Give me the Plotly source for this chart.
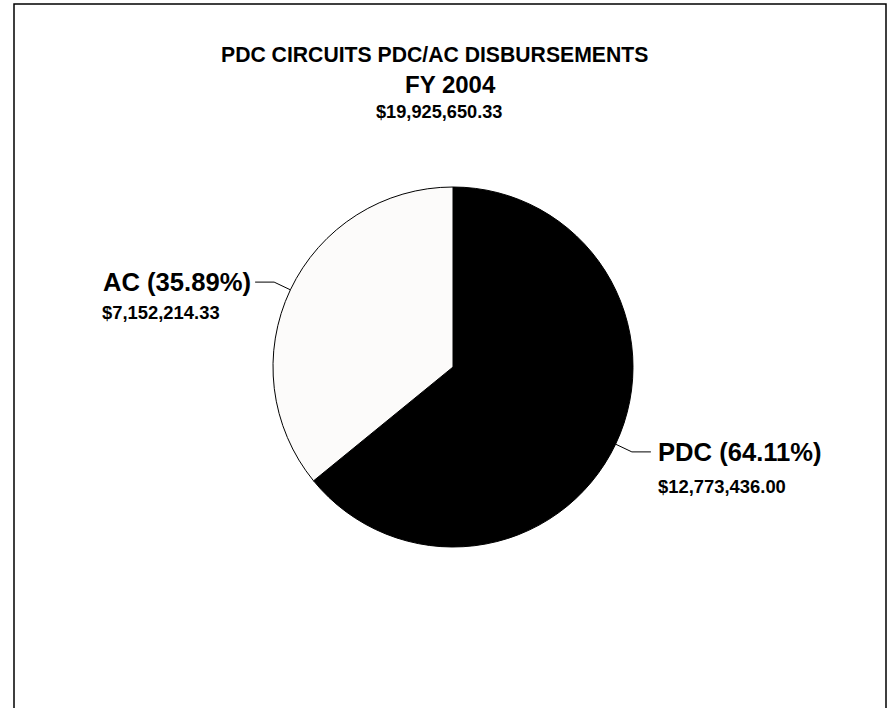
import math
import plotly.graph_objects as go

# ---- data ----
categories = ["PDC", "AC"]
amounts = [12773436.00, 7152214.33]
slice_colors = ["#000000", "#fcfbfa"]
title_lines = ["PDC CIRCUITS PDC/AC DISBURSEMENTS", "FY 2004"]
total_label = "$19,925,650.33"

W, H = 894, 708
cx, cy, R = 453, 367, 180  # pie centre / radius in page pixels

def px(x):
    return x / W

def py(y):
    return 1 - y / H

fig = go.Figure(go.Pie(
    labels=categories,
    values=amounts,
    sort=False,
    direction="clockwise",
    rotation=0,
    marker=dict(colors=slice_colors, line=dict(color="#000000", width=1)),
    textinfo="none",
    hoverinfo="label+value+percent",
    showlegend=False,
    domain=dict(x=[px(cx - R), px(cx + R)], y=[py(cy + R), py(cy - R)]),
))

FONT = "Liberation Sans, Arial, Helvetica, sans-serif"
total = sum(amounts)
shapes = []
annotations = []

# border
shapes.append(dict(type="rect", xref="paper", yref="paper",
                   x0=px(14), x1=px(886), y0=-0.05, y1=py(4),
                   line=dict(color="#000000", width=1.5)))

cum = 0.0
for name, val in zip(categories, amounts):
    theta = 2 * math.pi * (cum + val / 2) / total
    cum += val
    s, c = math.sin(theta), math.cos(theta)
    x0, y0 = cx + R * s, cy - R * c
    x1, y1 = cx + R * 1.1 * s, cy - R * 1.1 * c
    side = 1 if s >= 0 else -1
    x2 = x1 + side * 19
    shapes.append(dict(type="path", xref="paper", yref="paper",
                       path=f"M {px(x0)},{py(y0)} L {px(x1)},{py(y1)} L {px(x2)},{py(y1)}",
                       line=dict(color="#000000", width=1)))
    pct = 100 * val / total
    label = f"<b>{name} ({pct:.2f}%)</b>"
    money = f"<b>${val:,.2f}</b>"
    if side > 0:
        annotations.append(dict(text=label, x=px(x2 + 5), y=py(y1), xanchor="left", yanchor="middle",
                                font=dict(size=25.6, color="#000000", family=FONT)))
        annotations.append(dict(text=money, x=px(x2 + 5), y=py(y1 + 35), xanchor="left", yanchor="middle",
                                font=dict(size=18.4, color="#000000", family=FONT)))
    else:
        annotations.append(dict(text=label, x=px(x2 - 2), y=py(y1), xanchor="right", yanchor="middle",
                                font=dict(size=25.6, color="#000000", family=FONT)))
        annotations.append(dict(text=money, x=px(x2 - 155), y=py(y1 + 30), xanchor="left", yanchor="middle",
                                font=dict(size=18.4, color="#000000", family=FONT)))

# titles
annotations.append(dict(text=f"<b>{title_lines[0]}</b>", x=px(434.5), y=py(54), xanchor="center", yanchor="middle",
                        font=dict(size=21.2, color="#000000", family=FONT)))
annotations.append(dict(text=f"<b>{title_lines[1]}</b>", x=px(450), y=py(85), xanchor="center", yanchor="middle",
                        font=dict(size=24, color="#000000", family=FONT)))
annotations.append(dict(text=f"<b>{total_label}</b>", x=px(438.5), y=py(111.5), xanchor="center", yanchor="middle",
                        font=dict(size=18.2, color="#000000", family=FONT)))

for a in annotations:
    a.update(xref="paper", yref="paper", showarrow=False)

fig.update_layout(
    width=W, height=H,
    margin=dict(l=0, r=0, t=0, b=0),
    paper_bgcolor="#ffffff",
    plot_bgcolor="#ffffff",
    shapes=shapes,
    annotations=annotations,
)

fig.write_html(
    "out.html",
    config={"displayModeBar": False},
    post_script="document.body.style.margin='0';document.body.style.overflow='hidden';",
)
